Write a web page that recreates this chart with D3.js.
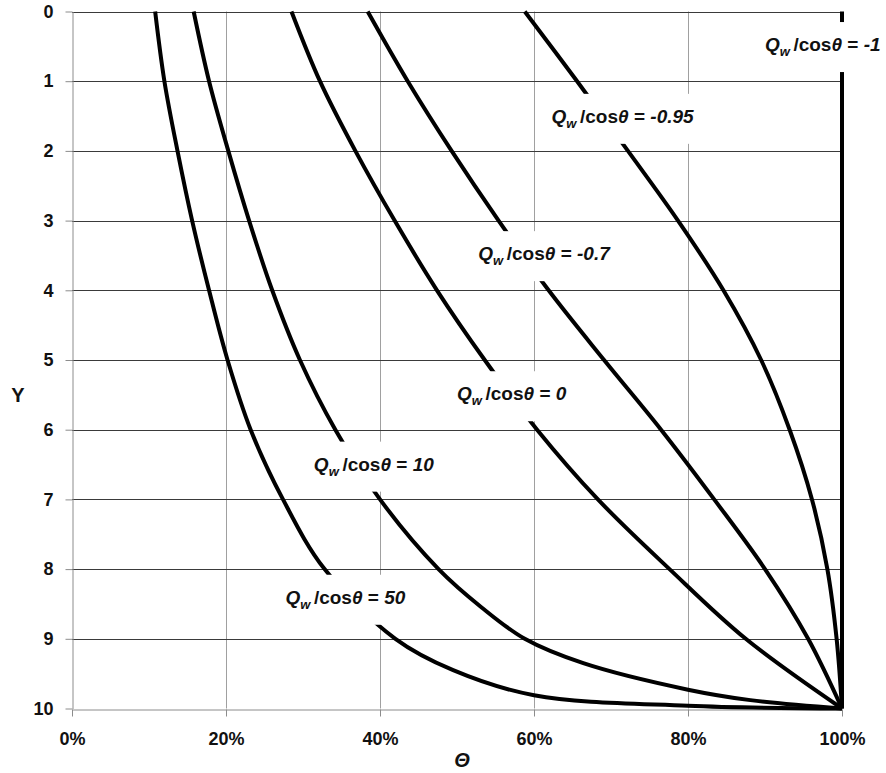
<!DOCTYPE html>
<meta charset="utf-8">
<style>
    body { margin: 0; background: #fff; }
    text { font-family: Arial, "Liberation Sans", sans-serif; font-weight: bold; fill: #111; }
    .grid-h line { stroke: #3a3a3a; stroke-width: 1px; }
    .grid-v line { stroke: #a0a0a0; stroke-width: 1px; }
    .axis path, .axis line { stroke: #8c8c8c; }
    .axis text { font-size: 18px; }
    .curve { fill: none; stroke: #000; stroke-width: 4px; }
</style>
<svg width="886" height="773"></svg>
<script src="https://d3js.org/d3.v7.min.js"></script>
<script>

    // depth Y and saturation Θ (%)
    var gridY = [0, 1, 2, 3, 4, 5, 6, 7, 8, 9, 10];
    var q50Y = [0, 1, 2, 3, 4, 5, 6, 7, 8, 9, 9.45, 9.81, 9.96, 10];
    var q50Theta = [10.8, 12.0, 13.7, 15.6, 17.8, 20.2, 23.2, 27.4, 32.8, 42.0, 49.5, 60, 80, 100];
    var q10Y = [0, 1, 2, 3, 4, 5, 6, 7, 8, 8.55, 9, 9.35, 9.73, 9.88, 10];
    var q10Theta = [15.8, 17.8, 20.3, 23.0, 26.0, 29.6, 34.2, 40.0, 47.6, 53.2, 58.8, 66.4, 80, 88.1, 100];
    var q0Theta = [28.5, 32.2, 36.8, 41.9, 47.4, 53.6, 60.4, 68.3, 77.6, 87.5, 100];
    var qm07Theta = [38.4, 43.6, 49.3, 55.4, 61.9, 69.1, 76.5, 83.4, 90.0, 95.6, 100];
    var qm095Theta = [58.8, 65.6, 72.2, 78.7, 84.6, 89.5, 93.2, 96.1, 98.1, 99.3, 100];
    var qm1Y = [0, 10];
    var qm1Theta = [100, 100];
    var xTicks = [0, 20, 40, 60, 80, 100];

    var series = [
        {name: "50", ys: q50Y, th: q50Theta},
        {name: "10", ys: q10Y, th: q10Theta},
        {name: "0", ys: gridY, th: q0Theta},
        {name: "-0.7", ys: gridY, th: qm07Theta},
        {name: "-0.95", ys: gridY, th: qm095Theta},
        {name: "-1", ys: qm1Y, th: qm1Theta, heavy: true}
    ];

    // where each data label sits (Θ %, Y)
    var labelAt = {"50": [35.5, 8.44], "10": [39.2, 6.53], "0": [57.1, 5.52],
        "-0.7": [61.3, 3.51], "-0.95": [71.5, 1.54], "-1": [97.5, 0.51]};

    var svg = d3.select("svg");
    var x = d3.scaleLinear().domain([0, 100]).range([72, 842]),
        y = d3.scaleLinear().domain([0, 10]).range([11.5, 708.5]);

    svg.append("g").attr("class", "grid-v")
        .selectAll("line").data(xTicks.slice(1, -1)).enter().append("line")
        .attr("x1", function(d) { return Math.round(x(d)) + 0.5; })
        .attr("x2", function(d) { return Math.round(x(d)) + 0.5; })
        .attr("y1", y(0)).attr("y2", y(10));

    svg.append("g").attr("class", "grid-h")
        .selectAll("line").data(gridY.slice(0, -1)).enter().append("line")
        .attr("x1", x(0)).attr("x2", x(100))
        .attr("y1", function(d) { return Math.round(y(d)) + 0.5; })
        .attr("y2", function(d) { return Math.round(y(d)) + 0.5; });

    svg.append("g").attr("class", "axis")
        .attr("transform", "translate(" + (x(0) + 0.5) + ",0)")
        .call(d3.axisLeft(y).tickValues(gridY).tickSize(7).tickSizeOuter(0).tickPadding(12));

    svg.append("g").attr("class", "axis")
        .attr("transform", "translate(0," + (Math.round(y(10)) + 0.5) + ")")
        .call(d3.axisBottom(x).tickValues(xTicks).tickSize(7).tickSizeOuter(0).tickPadding(16)
            .tickFormat(function(d) { return d + "%"; }));

    var line = d3.line()
        .x(function(d) { return x(d[0]); })
        .y(function(d) { return y(d[1]); })
        .curve(d3.curveCatmullRom.alpha(0.5));

    svg.append("g").selectAll("path").data(series).enter().append("path")
        .attr("class", "curve")
        .attr("stroke-width", function(d) { return d.heavy ? 6 : 4; })
        .attr("d", function(d) { return line(d.th.map(function(t, i) { return [t, d.ys[i]]; })); });

    // data labels with white boxes
    var lab = svg.append("g").selectAll("g").data(series).enter().append("g")
        .attr("transform", function(d) {
            var p = labelAt[d.name];
            return "translate(" + x(p[0]) + "," + y(p[1]) + ")";
        });

    lab.append("rect").attr("fill", "#fff");

    var txt = lab.append("text")
        .attr("text-anchor", "middle")
        .attr("y", 4)
        .style("font-size", "19px");
    txt.append("tspan").style("font-style", "italic").text("Q");
    txt.append("tspan").style("font-style", "italic").style("font-size", "13px")
        .attr("dy", 5).text("w ");
    txt.append("tspan").attr("dy", -5).text("/cos");
    txt.append("tspan").style("font-style", "italic").text("θ");
    txt.append("tspan").text(" = ");
    txt.append("tspan").style("font-style", "italic").text(function(d) { return d.name; });

    txt.each(function() {
        var w = this.getComputedTextLength();
        d3.select(this.parentNode).select("rect")
            .attr("x", -w / 2 - 7).attr("width", w + 14)
            .attr("y", -25).attr("height", 50);
    });

    svg.append("text").attr("x", 18).attr("y", 402)
        .attr("text-anchor", "middle").style("font-size", "20px").text("Y");
    svg.append("text").attr("x", 462).attr("y", 767)
        .attr("text-anchor", "middle").style("font-size", "20px")
        .style("font-style", "italic").text("Θ");

</script>
